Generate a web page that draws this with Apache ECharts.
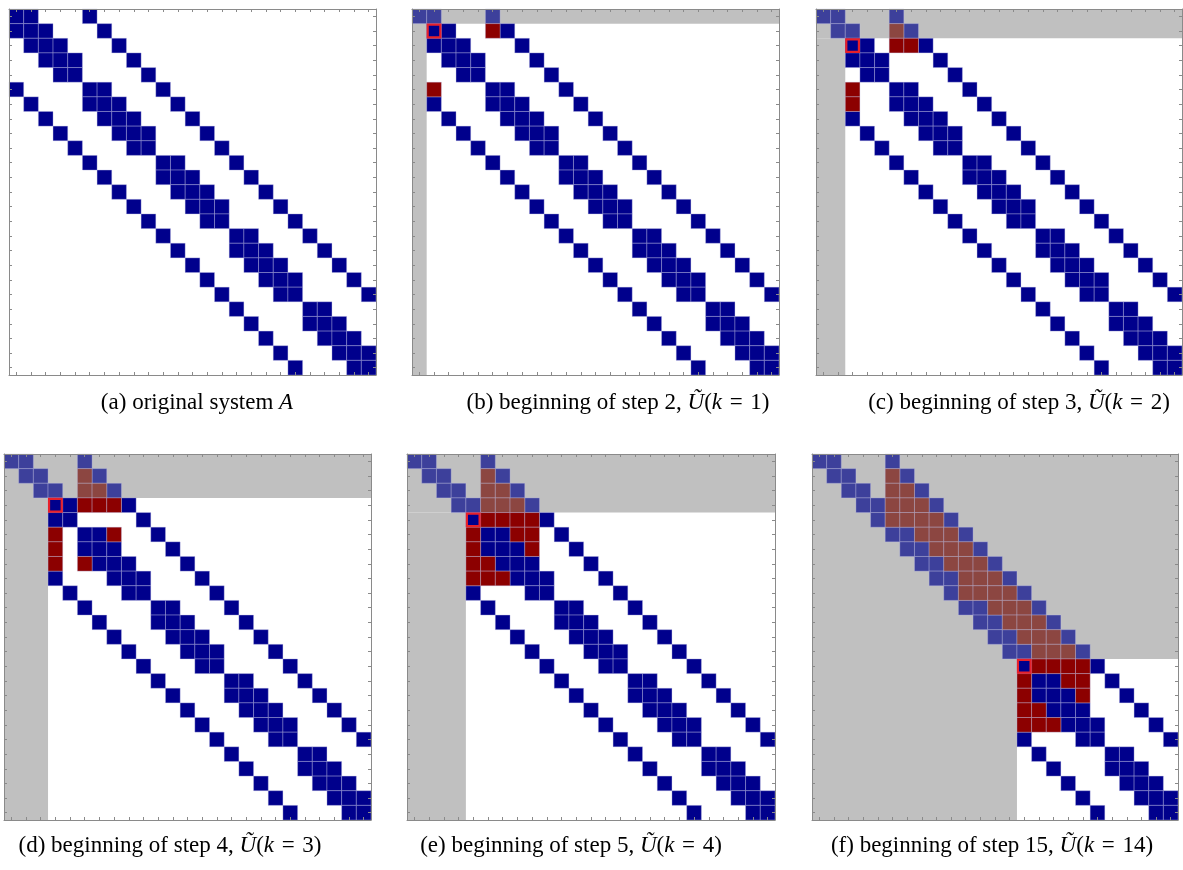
<!DOCTYPE html>
<html>
<head>
<meta charset="utf-8">
<script src="https://cdn.jsdelivr.net/npm/echarts@6/dist/echarts.min.js"></script>
<style>
  html, body { margin: 0; background: #ffffff; }
  #main { width: 1183px; height: 870px; }
</style>
</head>
<body>
<div id="main"></div>
<script>
// matrix size (25x25, 5-point stencil on a 5x5 grid)
const N = 25

// nonzero columns of A, row by row
const rowCols = [
  [0, 1, 5], [0, 1, 2, 6], [1, 2, 3, 7], [2, 3, 4, 8], [3, 4, 9],
  [0, 5, 6, 10], [1, 5, 6, 7, 11], [2, 6, 7, 8, 12], [3, 7, 8, 9, 13], [4, 8, 9, 14],
  [5, 10, 11, 15], [6, 10, 11, 12, 16], [7, 11, 12, 13, 17], [8, 12, 13, 14, 18], [9, 13, 14, 19],
  [10, 15, 16, 20], [11, 15, 16, 17, 21], [12, 16, 17, 18, 22], [13, 17, 18, 19, 23], [14, 18, 19, 24],
  [15, 20, 21], [16, 20, 21, 22], [17, 21, 22, 23], [18, 22, 23, 24], [19, 23, 24]
]

// elimination step shown in each panel (k = rows/cols already done)
const steps = [0, 1, 2, 3, 4, 14]

// visible fill-in entries [row, col] per panel
const fillA = []
const fillB = [[1, 5], [5, 1]]
const fillC = [[1, 5], [2, 5], [2, 6], [5, 2], [6, 2]]
const fillD = [[1, 5], [2, 5], [2, 6],
  [3, 5], [3, 6], [3, 7], [5, 3], [5, 7], [6, 3], [7, 3], [7, 5]]
const fillE = [[1, 5], [2, 5], [2, 6], [3, 5], [3, 6], [3, 7],
  [4, 5], [4, 6], [4, 7], [4, 8], [5, 4], [5, 7], [5, 8], [6, 4], [6, 8],
  [7, 4], [7, 5], [8, 4], [8, 5], [8, 6]]
const fillF = [[1, 5], [2, 5], [2, 6], [3, 5], [3, 6], [3, 7], [4, 5], [4, 6], [4, 7], [4, 8],
  [5, 7], [5, 8], [5, 9], [6, 8], [6, 9], [6, 10], [7, 9], [7, 10], [7, 11],
  [8, 10], [8, 11], [8, 12], [9, 10], [9, 11], [9, 12], [9, 13],
  [10, 12], [10, 13], [10, 14], [11, 13], [11, 14], [11, 15],
  [12, 14], [12, 15], [12, 16], [13, 15], [13, 16], [13, 17],
  [14, 15], [14, 16], [14, 17], [14, 18], [15, 14], [15, 17], [15, 18],
  [16, 14], [16, 18], [17, 14], [17, 15], [18, 14], [18, 15], [18, 16]]
const fills = [fillA, fillB, fillC, fillD, fillE, fillF]

const captions = [
  ['(a) original system ', 'A', ''],
  ['(b) beginning of step 2, ', 'Ũ', '1'],
  ['(c) beginning of step 3, ', 'Ũ', '2'],
  ['(d) beginning of step 4, ', 'Ũ', '3'],
  ['(e) beginning of step 5, ', 'Ũ', '4'],
  ['(f) beginning of step 15, ', 'Ũ', '14']
]

// panel boxes [left, top, width, height] and caption centres
const boxes = [
  [9, 9, 367, 366], [412, 9, 367, 366], [816, 9, 366, 366],
  [4, 454, 367, 366], [407, 454, 368, 366], [812, 454, 366, 366]
]
const capPos = [[197, 403], [618, 403], [1019, 403], [170, 846], [571, 846], [992, 846]]

const colors = ['#00008c', '#8c0000', '#3d409b', '#8c4641']
const gray = '#c0c0c0'
const idx = Array.from({ length: N }, (_, i) => String(i))

function cellsFor(p) {
  const k = steps[p]
  const out = []
  const add = (i, j, isFill) => {
    if (k === 0 || (i >= k && j >= k)) out.push([j, i, isFill ? 1 : 0])
    else if (i < k && j >= i) out.push([j, i, isFill ? 3 : 2])
  }
  rowCols.forEach((cols, i) => cols.forEach(j => add(i, j, false)))
  fills[p].forEach(f => { if (!rowCols[f[0]].includes(f[1])) add(f[0], f[1], true) })
  return out
}

function axisCommon() {
  return {
    type: 'category',
    data: idx,
    z: 10,
    axisLine: { show: true, lineStyle: { color: '#8a8a8a', width: 1 } },
    axisTick: { show: true, inside: true, length: 3, alignWithLabel: true, interval: 0, lineStyle: { color: '#8a8a8a' } },
    axisLabel: { show: false },
    splitLine: { show: false }
  }
}

const grid = [], xAxis = [], yAxis = [], series = [], graphic = []

boxes.forEach((b, p) => {
  const k = steps[p]
  grid.push({ left: b[0], top: b[1], width: b[2], height: b[3] })
  xAxis.push(Object.assign(axisCommon(), { gridIndex: p, position: 'bottom' }))
  xAxis.push(Object.assign(axisCommon(), { gridIndex: p, position: 'top' }))
  yAxis.push(Object.assign(axisCommon(), { gridIndex: p, position: 'left', inverse: true }))
  yAxis.push(Object.assign(axisCommon(), { gridIndex: p, position: 'right', inverse: true }))

  // processed rows / columns shaded grey: [col0, row0, col1, row1] inclusive
  if (k > 0) {
    series.push({
      type: 'custom',
      xAxisIndex: 2 * p,
      yAxisIndex: 2 * p,
      z: 1,
      silent: true,
      data: [[0, 0, N - 1, k - 1], [0, k, k - 1, N - 1]],
      renderItem: (params, api) => {
        const s = api.size([1, 1])
        const a = api.coord([api.value(0), api.value(1)])
        const c = api.coord([api.value(2), api.value(3)])
        return {
          type: 'rect',
          shape: { x: a[0] - s[0] / 2, y: a[1] - s[1] / 2, width: c[0] - a[0] + s[0], height: c[1] - a[1] + s[1] },
          style: { fill: gray }
        }
      }
    })
  }

  series.push({
    type: 'custom',
    xAxisIndex: 2 * p,
    yAxisIndex: 2 * p,
    z: 2,
    silent: true,
    data: cellsFor(p),
    renderItem: (params, api) => {
      const s = api.size([1, 1])
      const c = api.coord([api.value(0), api.value(1)])
      return {
        type: 'rect',
        shape: { x: c[0] - s[0] / 2, y: c[1] - s[1] / 2, width: s[0], height: s[1] },
        style: { fill: colors[api.value(2)], stroke: 'rgba(190,190,230,0.35)', lineWidth: 1 }
      }
    }
  })

  // current pivot
  if (k > 0) {
    series.push({
      type: 'custom',
      xAxisIndex: 2 * p,
      yAxisIndex: 2 * p,
      z: 3,
      silent: true,
      data: [[k, k]],
      renderItem: (params, api) => {
        const s = api.size([1, 1])
        const c = api.coord([api.value(0), api.value(1)])
        return {
          type: 'rect',
          shape: { x: c[0] - s[0] / 2 + 1, y: c[1] - s[1] / 2 + 1, width: s[0] - 2, height: s[1] - 2 },
          style: { fill: null, stroke: '#e8202a', lineWidth: 2.2 }
        }
      }
    })
  }

  const cap = captions[p]
  const txt = p === 0
    ? '{t|' + cap[0] + '}{m|' + cap[1] + '}'
    : '{t|' + cap[0] + '}{m|' + cap[1] + '}{t|(}{m|k}{t|\u2004=\u2004' + cap[2] + ')}'
  graphic.push({
    type: 'text',
    x: capPos[p][0],
    y: capPos[p][1],
    silent: true,
    style: {
      text: txt,
      align: 'center',
      verticalAlign: 'middle',
      rich: {
        t: { fontFamily: 'Liberation Serif', fontSize: 23, fill: '#000' },
        m: { fontFamily: 'Liberation Serif', fontSize: 23, fontStyle: 'italic', fill: '#000' }
      }
    }
  })
})

const chart = echarts.init(document.getElementById('main'))
chart.setOption({
  backgroundColor: '#ffffff',
  animation: false,
  grid: grid,
  xAxis: xAxis,
  yAxis: yAxis,
  series: series,
  graphic: graphic
})
</script>
</body>
</html>
